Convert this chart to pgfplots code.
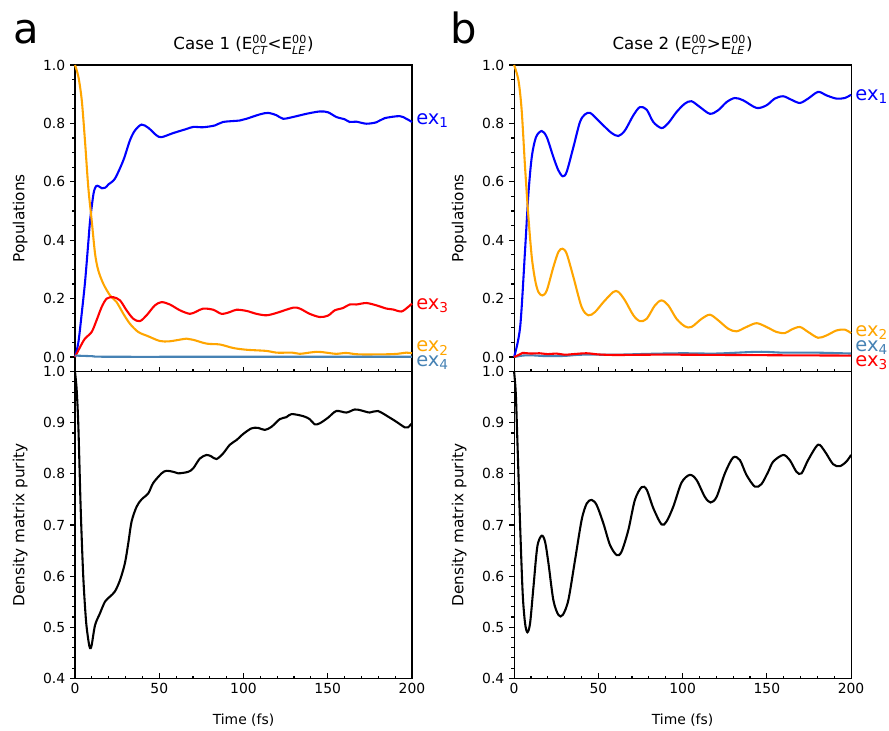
\documentclass[border=0pt]{standalone}
\usepackage{amsmath}
\usepackage{fontspec}
\setmainfont{DejaVu Sans}
\usepackage{pgfplots}
\pgfplotsset{compat=1.18}
\definecolor{mplorange}{RGB}{255,165,0}
\definecolor{steel}{RGB}{70,130,180}
\tikzset{exlab/.style={anchor=base west, inner sep=0pt, xshift=2.9pt, font=\fontsize{14}{16}\selectfont}}
\pgfplotsset{
  base/.style={
    scale only axis, width=242.6pt, height=220.75pt,
    xmin=0, xmax=200, xtick={0,50,100,150,200}, minor x tick num=4,
    axis line style={line width=0.8pt},
    tick style={black, line width=0.8pt},
    major tick length=3.5pt, minor tick length=2pt,
    xtick align=inside, ytick align=outside,
    xtick pos=bottom, ytick pos=left,
    /pgf/number format/assume math mode=true,
    tick label style={font=\fontsize{10}{12}\selectfont},
    every axis y label/.style={at={(axis description cs:-0.163,0.5)},rotate=90,anchor=center,font=\fontsize{11}{13}\selectfont},
    every axis x label/.style={at={(axis description cs:0.5,-0.136)},anchor=center,font=\fontsize{10}{12}\selectfont},
    clip=false,
    every axis plot/.append style={line width=1.5pt, smooth, no markers},
  },
  toppanel/.style={base, ymin=-0.05, ymax=1.0, ytick={0,0.2,0.4,0.6,0.8,1.0}, minor y tick num=3,
    xticklabels={}, ylabel={Populations},
    yticklabel style={/pgf/number format/.cd, fixed, fixed zerofill, precision=1},
    title style={font=\fontsize{12}{14}\selectfont, yshift=-2pt}},
  botpanel/.style={base, ymin=0.4, ymax=1.0, ytick={0.4,0.5,0.6,0.7,0.8,0.9,1.0}, minor y tick num=4,
    ylabel={Density matrix purity}, xlabel={Time (fs)},
    yticklabel style={/pgf/number format/.cd, fixed, fixed zerofill, precision=1}},
}
\begin{document}
\begin{tikzpicture}
\useasboundingbox (0,0) rectangle (640pt,-525.6pt);
\node[anchor=base west, inner sep=0pt, font=\fontsize{30}{36}\selectfont] at (9.4pt,-31pt) {a};
\node[anchor=base west, inner sep=0pt, font=\fontsize{30}{36}\selectfont] at (324pt,-31pt) {b};

% ---------- Case 1 populations ----------
\begin{axis}[toppanel, at={(54pt,-46.8pt)}, anchor=north west,
  title={Case 1 (E$^{\text{00}}_{\text{\itshape CT}}$<E$^{\text{00}}_{\text{\itshape LE}}$)}]
\addplot[blue] coordinates {(0,0) (2,0.05) (4,0.15) (6,0.26) (8,0.40) (9,0.47) (11,0.56) (12.5,0.585) (14,0.585) (16,0.578) (18,0.58) (20,0.592) (23.7,0.611) (28.7,0.674) (32.6,0.742) (35.6,0.776) (39.5,0.796) (43.5,0.785) (48.4,0.759) (51.4,0.753) (58.3,0.767) (66.2,0.781) (70.2,0.788) (76.1,0.787) (83,0.793) (87.9,0.805) (97.8,0.81) (101.8,0.816) (109.7,0.831) (114.6,0.836) (119.6,0.828) (123.5,0.816) (129.4,0.822) (137.4,0.833) (145.3,0.841) (150.2,0.838) (155.1,0.822) (160.1,0.814) (163,0.805) (167,0.806) (172.9,0.799) (178.9,0.804) (183.8,0.818) (192.7,0.825) (196.6,0.816) (200,0.805)};
\addplot[mplorange] coordinates {(0,1.0) (2,0.96) (4,0.88) (5.9,0.742) (7.9,0.58) (9.9,0.468) (11.9,0.354) (13.8,0.297) (16.8,0.251) (20.8,0.211) (24.7,0.188) (28.7,0.148) (32.6,0.114) (37.5,0.086) (43.5,0.071) (50.4,0.055) (56.3,0.054) (66.2,0.063) (70.2,0.059) (78.1,0.046) (86,0.043) (93.9,0.031) (101.8,0.025) (113.6,0.021) (119.6,0.015) (129,0.015) (133.4,0.011) (143.3,0.018) (149.2,0.015) (155,0.011) (161,0.014) (169,0.009) (188.7,0.01) (196.6,0.015) (200,0.013)};
\addplot[red] coordinates {(0,0) (3,0.034) (5.9,0.063) (9.9,0.086) (12.8,0.126) (15.8,0.171) (18.8,0.2) (22.7,0.205) (26.7,0.194) (30.6,0.160) (34.6,0.131) (38.5,0.123) (42.5,0.143) (47.4,0.177) (51.4,0.188) (56.3,0.180) (62.3,0.160) (68.2,0.148) (72.1,0.156) (76.1,0.166) (82,0.162) (87,0.148) (91.9,0.154) (95.8,0.162) (101.8,0.158) (107.7,0.148) (113.6,0.143) (119.6,0.151) (129.4,0.169) (133.4,0.166) (139.3,0.148) (145.3,0.137) (150.2,0.142) (154.2,0.160) (159.1,0.168) (163,0.180) (167,0.180) (172.9,0.185) (178.9,0.177) (184.8,0.166) (188.7,0.163) (193.7,0.156) (197.6,0.171) (200,0.183)};
\addplot[steel] coordinates {(0,0.005) (10,0.003) (20,0.001) (100,0.001) (200,0.001)};
\node[exlab, text=blue] at (axis cs:200,0.795) {ex$_{\text{1}}$};
\node[exlab, text=red] at (axis cs:200,0.164) {ex$_{\text{3}}$};
\node[exlab, text=mplorange] at (axis cs:200,0.018) {ex$_{\text{2}}$};
\node[exlab, text=steel] at (axis cs:200,-0.033) {ex$_{\text{4}}$};
\end{axis}

% ---------- Case 1 purity ----------
\begin{axis}[botpanel, at={(54pt,-267.55pt)}, anchor=north west]
\addplot[black] coordinates {(0,1.0) (1,0.964) (2,0.892) (3.4,0.729) (4.9,0.599) (6.5,0.514) (7.9,0.475) (8.9,0.459) (9.9,0.465) (11.9,0.504) (14.8,0.527) (17.8,0.55) (20.8,0.56) (23.7,0.570) (26.7,0.592) (29.6,0.625) (31.6,0.664) (33.6,0.707) (36.6,0.736) (39.5,0.750) (43.5,0.762) (46.4,0.782) (51.4,0.801) (54.3,0.806) (58.3,0.804) (61.3,0.801) (67.2,0.804) (70.2,0.811) (74.1,0.830) (78.1,0.837) (81,0.834) (84,0.829) (87.9,0.840) (91.9,0.857) (95.8,0.866) (99.8,0.878) (104.7,0.889) (108.7,0.890) (112.6,0.886) (116.6,0.892) (121.5,0.907) (125.5,0.911) (128.5,0.917) (135.4,0.913) (139.3,0.907) (142.3,0.897) (145.3,0.899) (150.2,0.910) (155.1,0.923) (161.1,0.920) (166,0.926) (170,0.924) (174.9,0.920) (179.8,0.923) (186.8,0.910) (190.7,0.902) (195.7,0.891) (197.6,0.891) (200,0.899)};
\end{axis}

% ---------- Case 2 populations ----------
\begin{axis}[toppanel, at={(370.1pt,-46.8pt)}, anchor=north west,
  title={Case 2 (E$^{\text{00}}_{\text{\itshape CT}}$>E$^{\text{00}}_{\text{\itshape LE}}$)}]
\addplot[blue] coordinates {(0,0) (3.6,0.103) (6.5,0.365) (8.5,0.559) (10.5,0.685) (13,0.753) (16.4,0.774) (19.4,0.753) (23.3,0.685) (26.3,0.639) (28.9,0.619) (31.2,0.634) (35.2,0.719) (39.1,0.805) (42.1,0.831) (45.1,0.836) (49,0.816) (53,0.793) (57.9,0.767) (61.9,0.757) (65.8,0.776) (70.8,0.828) (74.7,0.856) (78.7,0.847) (82.6,0.805) (87.5,0.784) (91.5,0.801) (96.4,0.839) (101.4,0.868) (105.3,0.876) (110.3,0.856) (116.2,0.833) (121.1,0.845) (126.1,0.873) (131,0.887) (136,0.879) (143.9,0.853) (149.8,0.862) (154.7,0.885) (159.7,0.893) (164.6,0.881) (169.6,0.870) (174.5,0.885) (180.4,0.908) (185.4,0.896) (191.3,0.885) (196.2,0.887) (200,0.898)};
\addplot[mplorange] coordinates {(0,1.0) (2.6,0.947) (4.5,0.845) (6.5,0.651) (8.5,0.479) (10.5,0.342) (12.5,0.263) (14.4,0.223) (16.8,0.211) (19.4,0.228) (23.3,0.308) (26.3,0.36) (28.7,0.371) (31.2,0.354) (35.2,0.274) (40.1,0.171) (44.1,0.143) (48,0.154) (53,0.188) (58.9,0.223) (61.9,0.223) (65.8,0.194) (70.8,0.143) (74.7,0.123) (78.7,0.131) (83.6,0.177) (87.5,0.194) (91.5,0.177) (96.4,0.131) (101.4,0.105) (105.3,0.103) (111.3,0.131) (116.2,0.145) (121.1,0.126) (127.1,0.097) (132,0.088) (137.9,0.103) (143.9,0.116) (149.8,0.103) (155.7,0.086) (160.7,0.082) (164.6,0.094) (169.6,0.103) (174.5,0.086) (180.4,0.066) (185.4,0.074) (191.3,0.091) (196.2,0.094) (200,0.082)};
\addplot[steel] coordinates {(0,0) (5,0.005) (10,0.006) (20,0.003) (30,0.004) (40,0.008) (60,0.008) (80,0.011) (100,0.013) (120,0.012) (145,0.018) (160,0.015) (180,0.015) (200,0.012)};
\addplot[red] coordinates {(0,0) (3,0.008) (5,0.014) (10,0.012) (15,0.013) (20,0.01) (25,0.012) (30,0.008) (35,0.01) (43,0.013) (50,0.009) (60,0.007) (80,0.008) (100,0.008) (130,0.007) (160,0.006) (200,0.005)};
\node[exlab, text=blue] at (axis cs:200,0.880) {ex$_{\text{1}}$};
\node[exlab, text=mplorange] at (axis cs:200,0.070) {ex$_{\text{2}}$};
\node[exlab, text=steel] at (axis cs:200,0.018) {ex$_{\text{4}}$};
\node[exlab, text=red] at (axis cs:200,-0.033) {ex$_{\text{3}}$};
\end{axis}

% ---------- Case 2 purity ----------
\begin{axis}[botpanel, at={(370.1pt,-267.55pt)}, anchor=north west]
\addplot[black] coordinates {(0,1.0) (1,0.958) (2,0.860) (3.6,0.697) (5.1,0.566) (6.5,0.508) (7.9,0.490) (9.5,0.508) (11.5,0.579) (13.8,0.658) (16.4,0.679) (18.4,0.667) (20.4,0.625) (23.3,0.553) (26.3,0.524) (28.9,0.524) (32.2,0.553) (36.2,0.632) (40.1,0.71) (43.1,0.742) (46,0.749) (49,0.739) (53,0.703) (56.9,0.661) (60.9,0.641) (63.8,0.648) (67.8,0.690) (71.7,0.749) (75.7,0.774) (78.7,0.769) (82.6,0.733) (87.5,0.701) (90.5,0.707) (94.5,0.736) (99.4,0.783) (104.3,0.798) (108.3,0.788) (113.2,0.755) (116.6,0.744) (120.2,0.755) (125.1,0.801) (130,0.832) (134,0.827) (137.9,0.798) (142.9,0.775) (146.8,0.78) (150.8,0.804) (153.8,0.824) (159.7,0.837) (163.6,0.827) (167.6,0.804) (170.6,0.801) (174.5,0.827) (180.4,0.857) (184.4,0.844) (189.3,0.819) (193.3,0.815) (197.2,0.824) (200,0.837)};
\end{axis}
\end{tikzpicture}
\end{document}
